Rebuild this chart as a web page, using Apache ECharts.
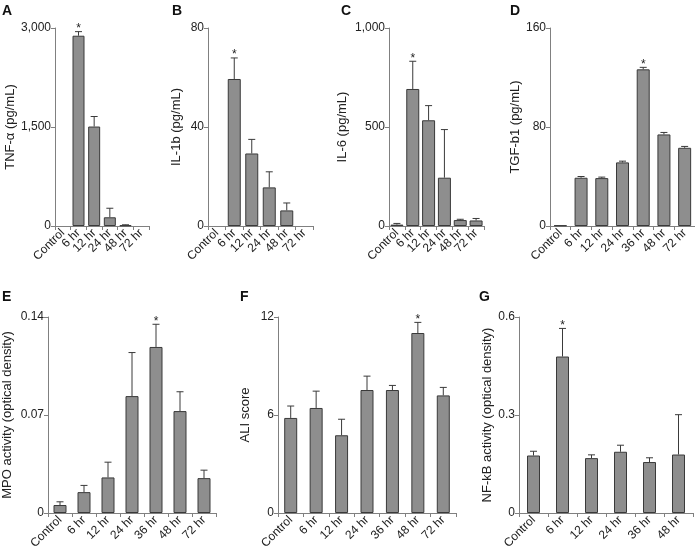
<!DOCTYPE html>
<html>
<head>
<meta charset="utf-8">
<script src="https://cdn.jsdelivr.net/npm/echarts@6/dist/echarts.min.js"></script>
<style>
html,body{margin:0;padding:0;background:#fff;}
#chart{width:695px;height:554px;}
</style>
</head>
<body>
<div id="chart"></div>
<script>
// categories
const cats6 = ['Control', '6 hr', '12 hr', '24 hr', '48 hr', '72 hr'];
const cats7 = ['Control', '6 hr', '12 hr', '24 hr', '36 hr', '48 hr', '72 hr'];
const catsG = ['Control', '6 hr', '12 hr', '24 hr', '36 hr', '48 hr'];

// means and error (upper bar length)
const tnfMean = [0, 2883, 1507, 132, 10, 0];
const tnfErr  = [0, 62, 152, 137, 8, 0];
const il1Mean = [0, 59.4, 29.3, 15.6, 6.3, 0];
const il1Err  = [0, 8.5, 5.7, 6.3, 3, 0];
const il6Mean = [7, 692, 534, 244, 30, 28];
const il6Err  = [6, 140, 74, 243, 4, 10];
const tgfMean = [0.5, 39, 38.7, 51.4, 126.6, 74, 63.2];
const tgfErr  = [0, 1, 0.8, 1, 1.6, 1.6, 1.1];
const mpoMean = [0.0057, 0.0149, 0.0254, 0.0835, 0.1186, 0.0728, 0.0249];
const mpoErr  = [0.0023, 0.0048, 0.0109, 0.0311, 0.0162, 0.0138, 0.0057];
const aliMean = [5.82, 6.43, 4.76, 7.53, 7.53, 11.02, 7.2];
const aliErr  = [0.73, 1.03, 0.98, 0.85, 0.28, 0.65, 0.49];
const nfkMean = [0.176, 0.479, 0.168, 0.1875, 0.156, 0.179];
const nfkErr  = [0.013, 0.086, 0.01, 0.02, 0.013, 0.122];

// y axis tops / tick steps
const yMax  = [3000, 80, 1000, 160, 0.14, 12, 0.6];
const yStep = [1500, 40, 500, 80, 0.07, 6, 0.3];
// index of the starred (significant) bar per panel
const starIdx = [1, 1, 1, 4, 4, 5, 1];

const yNames = ['TNF-\u03b1 (pg/mL)', 'IL-1b (pg/mL)', 'IL-6 (pg/mL)', 'TGF-b1 (pg/mL)',
  'MPO activity (optical density)', 'ALI score', 'NF-kB activity (optical density)'];
const letters = ['A', 'B', 'C', 'D', 'E', 'F', 'G'];

const panels = [
  { cats: cats6, mean: tnfMean, err: tnfErr },
  { cats: cats6, mean: il1Mean, err: il1Err },
  { cats: cats6, mean: il6Mean, err: il6Err },
  { cats: cats7, mean: tgfMean, err: tgfErr },
  { cats: cats7, mean: mpoMean, err: mpoErr },
  { cats: cats7, mean: aliMean, err: aliErr },
  { cats: catsG, mean: nfkMean, err: nfkErr }
];

// layout (pixels)
const boxes = [
  { left: 55,  width: 94,  top: 28, height: 198, gap: 32, lx: 2,   ly: 4 },
  { left: 208, width: 105, top: 28, height: 198, gap: 25, lx: 172, ly: 4 },
  { left: 389, width: 95,  top: 28, height: 198, gap: 40, lx: 341, ly: 4 },
  { left: 550, width: 145, top: 28, height: 198, gap: 28, lx: 510, ly: 4 },
  { left: 48,  width: 168, top: 317, height: 196, gap: 34, lx: 2,   ly: 290 },
  { left: 278, width: 178, top: 317, height: 196, gap: 26, lx: 240, ly: 290 },
  { left: 519, width: 174, top: 317, height: 196, gap: 24, lx: 479, ly: 290 }
];

const FONT = 'Liberation Sans, Arial, Helvetica, sans-serif';
const AXIS_COLOR = '#808080';
const BAR_COLOR = '#8e8e8e';
const EDGE = '#3a3a3a';

const fmtThousands = v => v >= 1000 ? String(v).replace(/\B(?=(\d{3})+(?!\d))/g, ',') : String(v);

const chart = echarts.init(document.getElementById('chart'), null, { renderer: 'canvas' });

const grid = [], xAxis = [], yAxis = [], series = [], graphic = [];

panels.forEach((p, i) => {
  const b = boxes[i];
  grid.push({ left: b.left, top: b.top, width: b.width, height: b.height, containLabel: false });
  xAxis.push({
    type: 'category', gridIndex: i, data: p.cats,
    boundaryGap: true,
    axisLine: { lineStyle: { color: AXIS_COLOR, width: 1 } },
    axisTick: { show: true, length: 4, lineStyle: { color: AXIS_COLOR } },
    axisLabel: { interval: 0, rotate: 45, margin: 5, fontSize: 12, color: '#222', fontFamily: FONT }
  });
  yAxis.push({
    type: 'value', gridIndex: i, min: 0, max: yMax[i], interval: yStep[i],
    name: yNames[i], nameLocation: 'middle', nameGap: b.gap,
    nameTextStyle: { fontSize: 13, color: '#222', fontFamily: FONT },
    axisLine: { show: true, lineStyle: { color: AXIS_COLOR, width: 1 } },
    axisTick: { show: true, length: 4, lineStyle: { color: AXIS_COLOR } },
    axisLabel: { fontSize: 12, color: '#222', margin: 4, fontFamily: FONT,
      formatter: v => fmtThousands(+v.toFixed(4)) },
    splitLine: { show: false }
  });
  series.push({
    type: 'bar', xAxisIndex: i, yAxisIndex: i,
    data: p.mean.map(m => (m === 0 ? null : m)), barWidth: i === 0 ? 12 : 13,
    itemStyle: { color: BAR_COLOR, borderColor: EDGE, borderWidth: 1 },
    silent: true, animation: false
  });
  series.push({
    type: 'custom', xAxisIndex: i, yAxisIndex: i,
    data: p.mean.map((m, k) => [k, m, p.err[k], k === starIdx[i] ? 1 : 0]),
    encode: { x: 0, y: 1 },
    silent: true, animation: false, z: 5,
    renderItem: (params, api) => {
      const k = api.value(0), m = api.value(1), e = api.value(2), star = api.value(3);
      const p0 = api.coord([k, m]);
      const p1 = api.coord([k, m + e]);
      const children = [];
      if (e > 0) {
        children.push({ type: 'line', shape: { x1: p0[0], y1: p0[1], x2: p1[0], y2: p1[1] },
          style: { stroke: EDGE, lineWidth: 1 } });
        children.push({ type: 'line', shape: { x1: p1[0] - 3.5, y1: p1[1], x2: p1[0] + 3.5, y2: p1[1] },
          style: { stroke: EDGE, lineWidth: 1 } });
      }
      if (star) {
        children.push({ type: 'text', x: p1[0], y: p1[1] + 3,
          style: { text: '*', fontSize: 12, fill: '#222', align: 'center', verticalAlign: 'bottom', fontFamily: FONT } });
      }
      return { type: 'group', children: children };
    }
  });
  graphic.push({ type: 'text', left: b.lx, top: b.ly,
    style: { text: letters[i], fontSize: 14, fontWeight: 'bold', fill: '#111', fontFamily: FONT } });
});

chart.setOption({
  animation: false,
  grid: grid,
  xAxis: xAxis,
  yAxis: yAxis,
  series: series,
  graphic: graphic
});
</script>
</body>
</html>
